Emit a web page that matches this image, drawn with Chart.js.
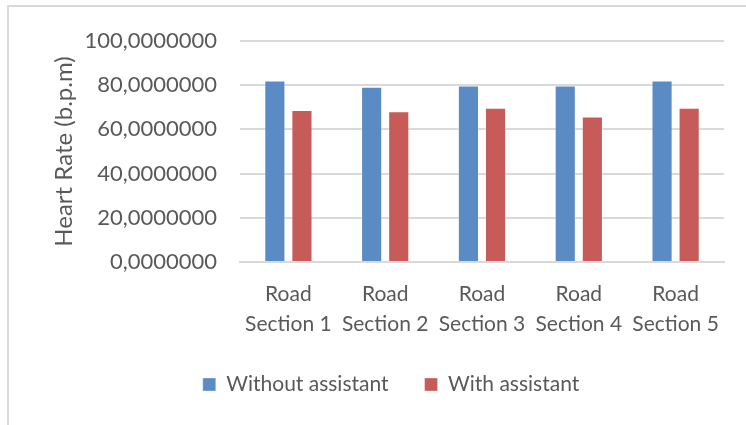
<!DOCTYPE html>
<html>
<head>
<meta charset="utf-8">
<script src="https://cdn.jsdelivr.net/npm/chart.js@4/dist/chart.umd.min.js"></script>
<style>
  html, body { margin: 0; padding: 0; background: #ffffff; }
  #wrap { width: 746px; height: 425px; position: relative; }
</style>
</head>
<body>
<div id="wrap"><canvas id="chart"></canvas></div>
<script>
// Mean heart rate per road section
const categories = [
  ['Road', 'Section 1'],
  ['Road', 'Section 2'],
  ['Road', 'Section 3'],
  ['Road', 'Section 4'],
  ['Road', 'Section 5']
];
const seriesNames = ['Without assistant', 'With assistant'];
const withoutAssistant = [82.1, 79.3, 79.9, 79.9, 82.1];
const withAssistant = [68.8, 68.2, 69.8, 65.8, 69.8];
const yTicks = [0, 20, 40, 60, 80, 100];
const yTitle = 'Heart Rate (b.p.m)';

const FONT = 'Lato, "Open Sans", sans-serif';
const TEXT = '#595959';

// Light frame around the whole chart
const framePlugin = {
  id: 'frame',
  beforeDraw(chart) {
    const ctx = chart.ctx;
    ctx.save();
    ctx.strokeStyle = '#d9d9d9';
    ctx.lineWidth = 2;
    ctx.strokeRect(8, 6, chart.width + 20, chart.height + 20);
    ctx.restore();
  }
};

// Nudge the legend row to the right
const legendShift = {
  id: 'legendShift',
  afterLayout(chart) {
    const lg = chart.legend;
    if (lg) { lg.left += 25; lg.right += 25; }
  }
};

new Chart(document.getElementById('chart'), {
  type: 'bar',
  data: {
    labels: categories,
    datasets: [
      { label: seriesNames[0], data: withoutAssistant, backgroundColor: '#5b8bc5',
        borderColor: 'rgba(255,255,255,0.35)', borderWidth: 1 },
      { label: seriesNames[1], data: withAssistant, backgroundColor: '#c65b57',
        borderColor: 'rgba(255,255,255,0.35)', borderWidth: 1 }
    ]
  },
  options: {
    responsive: true,
    maintainAspectRatio: false,
    animation: false,
    layout: { padding: { left: 8, right: 22, top: 41, bottom: 20 } },
    datasets: { bar: { categoryPercentage: 0.56, barPercentage: 0.78 } },
    plugins: {
      legend: {
        position: 'bottom',
        labels: {
          font: { family: FONT, size: 21 },
          color: TEXT,
          boxWidth: 13,
          boxHeight: 13,
          padding: 36
        }
      },
      tooltip: { enabled: false }
    },
    scales: {
      x: {
        grid: { display: false, drawTicks: false },
        border: { display: true, color: '#d9d9d9', width: 2 },
        ticks: {
          font: { family: FONT, size: 21, lineHeight: 1.43 },
          color: TEXT,
          padding: 17,
          maxRotation: 0,
          autoSkip: false
        },
        afterFit(scale) { scale.height = 76; }
      },
      y: {
        min: 0,
        max: 100,
        afterBuildTicks(scale) { scale.ticks = yTicks.map(v => ({ value: v })); },
        grid: { color: '#d9d9d9', lineWidth: 2, drawTicks: false },
        border: { display: false },
        ticks: {
          font: { family: FONT, size: 22 },
          color: TEXT,
          padding: 23,
          callback: v => v.toFixed(7).replace('.', ',')
        },
        title: {
          display: true,
          text: yTitle,
          font: { family: FONT, size: 24 },
          color: TEXT,
          padding: { top: 42, bottom: 0 }
        },
        afterFit(scale) { scale.width = 232; }
      }
    }
  },
  plugins: [framePlugin, legendShift]
});
</script>
</body>
</html>
